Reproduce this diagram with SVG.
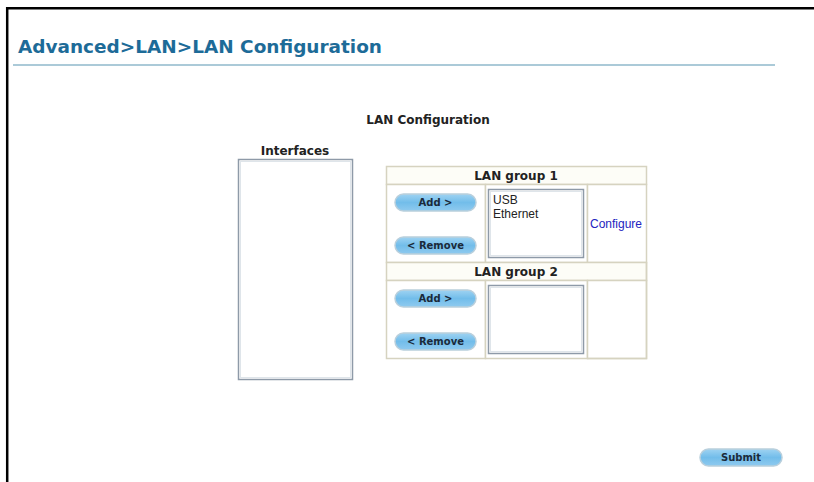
<svg xmlns="http://www.w3.org/2000/svg" width="814" height="482" viewBox="0 0 814 482">
<defs>
<linearGradient id="btn" x1="0" y1="0" x2="0" y2="1">
<stop offset="0" stop-color="#9fd3f2"/>
<stop offset="0.5" stop-color="#72bdea"/>
<stop offset="1" stop-color="#8fcaef"/>
</linearGradient>
</defs>
<style>
.frame{stroke:#000;stroke-width:2.5;fill:none}
.title{font-family:"DejaVu Sans",sans-serif;font-weight:bold;font-size:18px;fill:#1d6b98}
.h{font-family:"DejaVu Sans",sans-serif;font-weight:bold;font-size:12px;fill:#222}
.cell{fill:#fff;stroke:#d6d3c0;stroke-width:1.5}
.hdr{fill:#fdfdf7;stroke:#d6d3c0;stroke-width:1.5}
.list{fill:#fff;stroke:#8e9aa8;stroke-width:1.5}
.listin{fill:none;stroke:#dfe5ea;stroke-width:1}
.btn{fill:url(#btn);stroke:#b9cfdc;stroke-width:1.5}
.bt{font-family:"DejaVu Sans",sans-serif;font-weight:bold;font-size:10px;fill:#1b2a3a;text-anchor:middle}
.item{font-family:"Liberation Sans",Arial,sans-serif;font-size:12px;fill:#222}
.link{font-family:"Liberation Sans",Arial,sans-serif;font-size:12px;fill:#2323c0}
</style>
<rect width="814" height="482" fill="#fff"/>
<path class="frame" d="M7.2 482 V8.2 H814"/>
<text class="title" x="18" y="53" textLength="364" lengthAdjust="spacingAndGlyphs">Advanced&gt;LAN&gt;LAN Configuration</text>
<line x1="13" y1="65" x2="775" y2="65" stroke="#8fb9cb" stroke-width="1.5"/>
<text class="h" x="428" y="124" text-anchor="middle">LAN Configuration</text>

<g id="interfaces">
<text class="h" x="295" y="155" text-anchor="middle">Interfaces</text>
<rect class="list" x="238.5" y="159.5" width="114" height="220"/>
<rect class="listin" x="240.5" y="161.5" width="110" height="216"/>
</g>

<g id="lan-group-1">
<rect class="hdr" x="386.5" y="166.5" width="260" height="18"/>
<text class="h" x="516" y="180" text-anchor="middle">LAN group 1</text>
<rect class="cell" x="386.5" y="184.5" width="99" height="78"/>
<rect class="cell" x="485.5" y="184.5" width="102" height="78"/>
<rect class="cell" x="587.5" y="184.5" width="59" height="78"/>
<rect class="btn" x="395" y="194" width="81" height="17" rx="8.5"/>
<text class="bt" x="435.5" y="206">Add &gt;</text>
<rect class="btn" x="395" y="237" width="81" height="17" rx="8.5"/>
<text class="bt" x="435.5" y="249">&lt; Remove</text>
<rect class="list" x="488.5" y="189.5" width="95" height="68"/>
<rect class="listin" x="490.5" y="191.5" width="91" height="64"/>
<text class="item" x="493" y="204">USB</text>
<text class="item" x="493" y="218">Ethernet</text>
<text class="link" x="590" y="228">Configure</text>
</g>

<g id="lan-group-2">
<rect class="hdr" x="386.5" y="262.5" width="260" height="18"/>
<text class="h" x="516" y="276" text-anchor="middle">LAN group 2</text>
<rect class="cell" x="386.5" y="280.5" width="99" height="78"/>
<rect class="cell" x="485.5" y="280.5" width="102" height="78"/>
<rect class="cell" x="587.5" y="280.5" width="59" height="78" stroke="#fff"/>
<path d="M646.5 262.5 V358.5 H587.5" fill="none" stroke="#d6d3c0" stroke-width="1.5"/>
<rect class="btn" x="395" y="290" width="81" height="17" rx="8.5"/>
<text class="bt" x="435.5" y="302">Add &gt;</text>
<rect class="btn" x="395" y="333" width="81" height="17" rx="8.5"/>
<text class="bt" x="435.5" y="345">&lt; Remove</text>
<rect class="list" x="488.5" y="285.5" width="95" height="68"/>
<rect class="listin" x="490.5" y="287.5" width="91" height="64"/>
</g>

<g id="submit">
<rect class="btn" x="700" y="449" width="82" height="17" rx="8.5"/>
<text class="bt" x="741" y="461">Submit</text>
</g>
</svg>
